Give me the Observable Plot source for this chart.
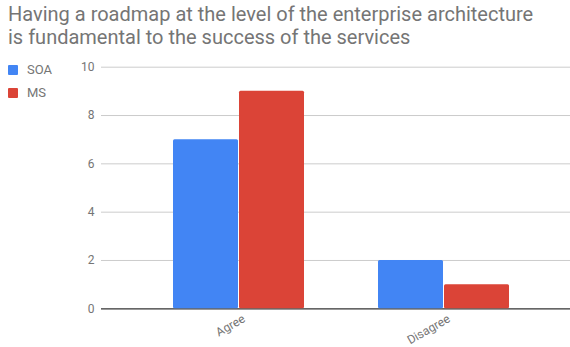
<!DOCTYPE html>
<html>
<head>
<meta charset="utf-8">
<script src="https://cdn.jsdelivr.net/npm/d3@7"></script>
<script src="https://cdn.jsdelivr.net/npm/@observablehq/plot@0.6"></script>
<style>
  html, body { margin: 0; padding: 0; background: #fff; }
  #root { position: relative; width: 570px; height: 347px; font-family: Roboto, sans-serif; overflow: hidden; }
  #title { position: absolute; left: 8px; top: 0; padding-top: 3px; font-size: 20px; line-height: 23px; color: #757575; white-space: nowrap; }
  #legend { position: absolute; left: 8px; top: 58px; font-size: 13px; color: #757575; z-index: 3; }
  .item { display: flex; align-items: center; height: 23px; }
  .sw { width: 10px; height: 10px; margin-right: 9px; border-radius: 1px; }
  #plots { position: absolute; left: 0; top: 50px; width: 570px; height: 297px; }
  #plots svg { position: absolute; left: 0; top: 0; }
</style>
</head>
<body>
<div id="root">
  <div id="title">Having a roadmap at the level of the enterprise architecture<br>is fundamental to the success of the services</div>
  <div id="legend"></div>
  <div id="plots"></div>
</div>
<script>
const categories = ["Agree", "Disagree"];
const series = ["SOA", "MS"];
const soaValues = [7, 2];
const msValues = [9, 1];
const yTicks = [0, 2, 4, 6, 8, 10];
const colors = ["#4285F4", "#DB4437"];

const rows = categories.flatMap((c, i) => [
  {category: c, series: "SOA", value: soaValues[i]},
  {category: c, series: "MS", value: msValues[i]}
]);

const W = 570, H = 297;
const mTop = 16.7, mBottom = 38.7, mLeft = 101, mRight = 0;
const common = {
  width: W, height: H,
  marginTop: mTop, marginBottom: mBottom, marginLeft: mLeft, marginRight: mRight,
  style: {fontFamily: "Roboto, sans-serif", fontSize: "12px", color: "#757575", background: "transparent", overflow: "visible"}
};

const base = Plot.plot({
  ...common,
  y: {domain: [0, 10], label: null},
  marks: [
    Plot.ruleY(yTicks.filter(v => v > 0), {stroke: "#cccccc", strokeWidth: 1}),
    Plot.ruleY([0], {stroke: "#333333", strokeWidth: 1.2}),
    Plot.axisY(yTicks, {tickSize: 0, tickPadding: 7, label: null})
  ]
});

const bars = Plot.plot({
  ...common,
  fx: {domain: categories, range: [135.5, 546.2], padding: 0, label: null},
  x: {domain: series, paddingInner: 0.021, paddingOuter: 0.56, axis: null},
  y: {domain: [0, 10], axis: null},
  color: {domain: series, range: colors},
  marks: [
    Plot.barY(rows, {fx: "category", x: "series", y: "value", fill: "series", rx: 1.5}),
    Plot.axisFx({anchor: "bottom", tickSize: 0, tickPadding: 9, tickRotate: -30, dx: 5, label: null})
  ]
});

const plots = document.getElementById("plots");
plots.appendChild(base);
plots.appendChild(bars);

const legend = document.getElementById("legend");
series.forEach((s, i) => {
  const item = document.createElement("div");
  item.className = "item";
  const sw = document.createElement("div");
  sw.className = "sw";
  sw.style.background = colors[i];
  const t = document.createElement("span");
  t.textContent = s;
  item.appendChild(sw);
  item.appendChild(t);
  legend.appendChild(item);
});
</script>
</body>
</html>
